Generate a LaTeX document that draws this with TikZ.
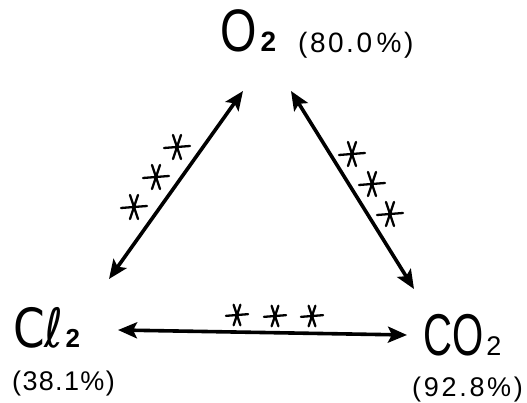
\documentclass[tikz,border=0pt]{standalone}
\usepackage{fontspec}
\usepackage{graphicx}
\setmainfont{Liberation Sans}
\newfontfamily\symfont{DejaVu Sans}
\usetikzlibrary{arrows.meta}
\begin{document}
\begin{tikzpicture}[x=1pt,y=-1pt,
  formula/.style={inner sep=0pt, anchor=base west},
  pct/.style={inner sep=0pt, anchor=base west},
  link/.style={line width=3.6pt,
    {Stealth[length=19pt,width=16pt,inset=4pt]}-{Stealth[length=19pt,width=16pt,inset=4pt]}},
  starstroke/.style={line width=2.3pt, line cap=round},
  asterisk/.pic={\draw[starstroke] (-13,1)--(13,-1) (-4,12)--(4,-12) (-4,-12)--(4,12);}]
\useasboundingbox (0,0) rectangle (527,403);
% formulas
\node[formula] (O2) at (220,52) {\scalebox{0.78}[1]{\fontsize{60}{60}\selectfont O}\hspace{4pt}{\fontsize{28}{28}\selectfont\bfseries 2}};
\node[pct] (pO2) at (298,53) {\fontsize{28}{28}\selectfont\addfontfeature{LetterSpace=9}(80.0\,\%)};
\node[formula] (Cl2) at (13,347) {\scalebox{0.84}[1]{\symfont\fontsize{54}{54}\selectfont Cℓ}\hspace{2pt}{\fontsize{26}{26}\selectfont\bfseries 2}};
\node[pct] (pCl2) at (12,390) {\fontsize{27}{27}\selectfont\addfontfeature{LetterSpace=5}(38.1\%)};
\node[formula] (CO2) at (423,355) {\scalebox{0.68}[1]{\fontsize{59}{59}\selectfont CO}\hspace{3pt}{\fontsize{27}{27}\selectfont 2}};
\node[pct] (pCO2) at (412,396) {\fontsize{27}{27}\selectfont\addfontfeature{LetterSpace=10}(92.8\%)};
% connector ends
\coordinate (ltop) at (243,91);
\coordinate (lbot) at (109,279);
\coordinate (rtop) at (291,91);
\coordinate (rbot) at (414,289);
\coordinate (hl) at (118,330);
\coordinate (hr) at (407,335);
\draw[link] (ltop) -- (lbot);
\draw[link] (rtop) -- (rbot);
\draw[link] (hl) -- (hr);
% stars
\pic (sl1) at (177,147) {asterisk};
\pic (sl2) at (156,177) {asterisk};
\pic (sl3) at (134,207) {asterisk};
\pic (sr1) at (352,154) {asterisk};
\pic (sr2) at (372,184) {asterisk};
\pic (sr3) at (390,214) {asterisk};
\pic[scale=0.85] (sb1) at (237,315) {asterisk};
\pic[scale=0.85] (sb2) at (275,316) {asterisk};
\pic[scale=0.85] (sb3) at (312,316) {asterisk};
\end{tikzpicture}
\end{document}
